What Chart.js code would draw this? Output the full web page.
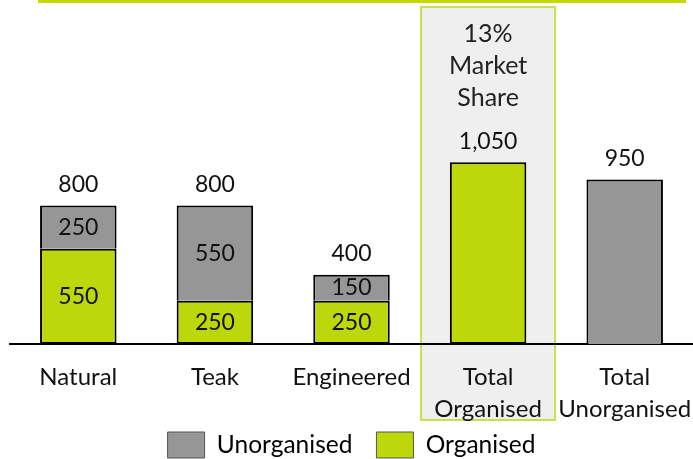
<!DOCTYPE html>
<html>
<head>
<meta charset="utf-8">
<script src="https://cdn.jsdelivr.net/npm/chart.js@4.4.1/dist/chart.umd.min.js"></script>
<style>
  html, body { margin: 0; padding: 0; background: #fff; }
  #wrap { width: 693px; height: 459px; }
</style>
</head>
<body>
<div id="wrap"><canvas id="chart" width="693" height="459"></canvas></div>
<script>
// chart data
const categories = ['Natural', 'Teak', 'Engineered', ['Total', 'Organised'], ['Total', 'Unorganised']];
const organised = [550, 250, 250, 1050, null];
const unorganised = [250, 550, 150, null, 950];
const totals = ['800', '800', '400', '1,050', '950'];
const highlightIndex = 3;
const highlightText = ['13%', 'Market', 'Share'];

const GREEN = '#bdd80a';
const GREY = '#969696';
const FONT = 'Lato, "Open Sans", sans-serif';

// light box behind "Total Organised" + green rule at the top
const backdrop = {
    id: 'backdrop',
    afterLayout(chart) {
        // let the two-line tick labels spill into the legend's empty top padding
        chart.scales.x.bottom = chart.height;
    },
    beforeDraw(chart) {
        const ctx = chart.ctx;
        const x = chart.scales.x;
        const cx = x.getPixelForValue(highlightIndex);
        const half = 67;
        ctx.save();
        ctx.fillStyle = '#efefef';
        ctx.fillRect(cx - half, 7, half * 2, 413);
        ctx.strokeStyle = '#c9e04c';
        ctx.lineWidth = 2;
        ctx.strokeRect(cx - half, 7, half * 2, 413);

        ctx.fillStyle = '#c3d900';
        ctx.fillRect(38, 0, 648, 3);
        ctx.restore();
    }
};

// value labels inside segments and totals above bars
const valueLabels = {
    id: 'valueLabels',
    afterDatasetsDraw(chart) {
        const ctx = chart.ctx;
        ctx.save();
        ctx.font = '23px ' + FONT;
        ctx.fillStyle = '#111';
        ctx.textAlign = 'center';
        ctx.textBaseline = 'middle';

        chart.data.datasets.forEach((ds, i) => {
            const meta = chart.getDatasetMeta(i);
            meta.data.forEach((bar, j) => {
                if (ds.data[j] == null || j >= highlightIndex) return;
                ctx.fillText(String(ds.data[j]), bar.x, (bar.y + bar.base) / 2);
            });
        });

        const y = chart.scales.y;
        const x = chart.scales.x;
        categories.forEach((c, j) => {
            const sum = (organised[j] || 0) + (unorganised[j] || 0);
            ctx.fillText(totals[j], x.getPixelForValue(j), y.getPixelForValue(sum) - 21);
        });

        ctx.fillStyle = '#222';
        ctx.font = '25px ' + FONT;
        const hx = x.getPixelForValue(highlightIndex);
        highlightText.forEach((t, k) => {
            ctx.fillText(t, hx, 34 + k * 32);
        });
        ctx.restore();
    }
};

new Chart(document.getElementById('chart'), {
    type: 'bar',
    data: {
        labels: categories,
        datasets: [
            {
                label: 'Organised',
                data: organised,
                backgroundColor: GREEN,
                borderColor: '#000',
                borderWidth: 2,
                borderSkipped: false
            },
            {
                label: 'Unorganised',
                data: unorganised,
                backgroundColor: GREY,
                borderColor: '#000',
                borderWidth: 2,
                borderSkipped: 'bottom'
            }
        ]
    },
    options: {
        responsive: false,
        animation: false,
        barPercentage: 0.56,
        categoryPercentage: 1,
        layout: { padding: { left: 10, right: 0, top: 15, bottom: -9 } },
        plugins: {
            legend: {
                position: 'bottom',
                reverse: true,
                labels: {
                    boxWidth: 37,
                    boxHeight: 26,
                    padding: 24,
                    color: '#111',
                    font: { family: FONT, size: 24.5 },
                    generateLabels(chart) {
                        return chart.data.datasets.map((ds, i) => ({
                            text: ds.label,
                            fillStyle: ds.backgroundColor,
                            strokeStyle: '#555',
                            lineWidth: 1,
                            datasetIndex: i
                        }));
                    }
                }
            },
            tooltip: { enabled: false }
        },
        scales: {
            x: {
                stacked: true,
                grid: { display: false, drawTicks: false },
                border: { display: true, color: '#000', width: 2 },
                ticks: {
                    color: '#111',
                    padding: 17,
                    maxRotation: 0,
                    autoSkip: false,
                    font: { family: FONT, size: 24, lineHeight: 1.34 }
                },
                afterFit(scale) {
                    scale.height = 64;
                    scale.paddingLeft = 0;
                    scale.paddingRight = 0;
                }
            },
            y: {
                stacked: true,
                display: false,
                min: 0,
                max: 1900
            }
        }
    },
    plugins: [backdrop, valueLabels]
});
</script>
</body>
</html>
